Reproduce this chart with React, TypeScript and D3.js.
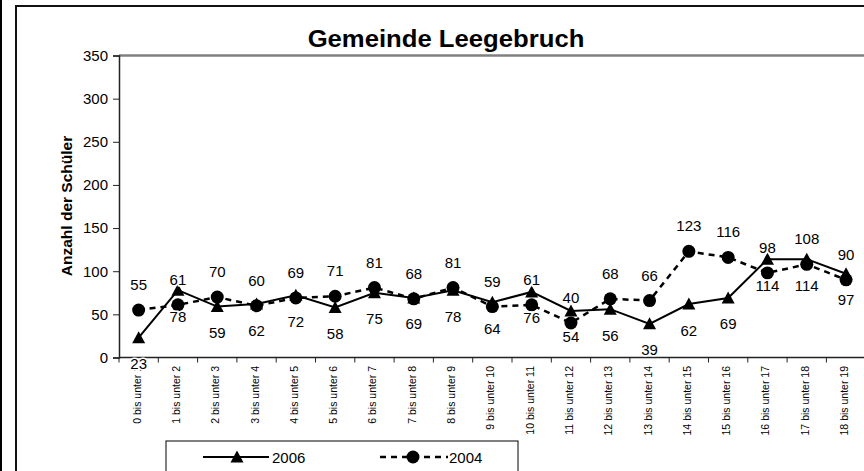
import React, { useEffect, useRef } from "react";
import * as d3 from "d3";

const categories = [
  "0 bis unter 1",
  "1 bis unter 2",
  "2 bis unter 3",
  "3 bis unter 4",
  "4 bis unter 5",
  "5 bis unter 6",
  "6 bis unter 7",
  "7 bis unter 8",
  "8 bis unter 9",
  "9 bis unter 10",
  "10 bis unter 11",
  "11 bis unter 12",
  "12 bis unter 13",
  "13 bis unter 14",
  "14 bis unter 15",
  "15 bis unter 16",
  "16 bis unter 17",
  "17 bis unter 18",
  "18 bis unter 19",
];

const values2006 = [23, 78, 59, 62, 72, 58, 75, 69, 78, 64, 76, 54, 56, 39, 62, 69, 114, 114, 97];
const values2004 = [55, 61, 70, 60, 69, 71, 81, 68, 81, 59, 61, 40, 68, 66, 123, 116, 98, 108, 90];

const yTicks = [0, 50, 100, 150, 200, 250, 300, 350];

const seriesNames = ["2006", "2004"];

const FONT = "Arial, 'Liberation Sans', sans-serif";

const App = () => {
  const svgRef = useRef<SVGSVGElement>(null);

  useEffect(() => {
    const width = 864;
    const height = 471;
    const svg = d3.select(svgRef.current);
    svg.selectAll("*").remove();
    svg.attr("width", width).attr("height", height);

    const left = 119;
    const top = 55.5;
    const bottom = 357.5;
    const band = 39.3;

    const x = d3
      .scaleBand()
      .domain(categories)
      .range([left, left + band * categories.length])
      .padding(0);
    const y = d3.scaleLinear().domain([0, 350]).range([bottom, top]);
    const cx = (i) => x(categories[i]) + x.bandwidth() / 2;

    // background + outer frame
    svg.append("rect").attr("width", width).attr("height", height).attr("fill", "white");
    svg.append("rect").attr("x", 0).attr("y", 0).attr("width", 2).attr("height", height).attr("fill", "black");
    svg
      .append("path")
      .attr("d", `M16,${height + 5}V6H${width + 5}`)
      .attr("fill", "none")
      .attr("stroke", "#111")
      .attr("stroke-width", 2);

    // plot area top border
    svg
      .append("line")
      .attr("x1", left)
      .attr("x2", width + 5)
      .attr("y1", top)
      .attr("y2", top)
      .attr("stroke", "#808080")
      .attr("stroke-width", 2.5);

    // title (source font is a bit wider than Arial)
    svg
      .append("text")
      .attr("transform", "translate(446,46.5) scale(1.07,1)")
      .attr("text-anchor", "middle")
      .style("font-family", FONT)
      .style("font-weight", "bold")
      .style("font-size", "24px")
      .text("Gemeinde Leegebruch");

    // y axis
    const yAxis = d3.axisLeft(y).tickValues(yTicks).tickSize(6).tickPadding(5);
    const yg = svg.append("g").attr("transform", `translate(${left},0)`).call(yAxis);
    yg.select(".domain").attr("stroke", "#222").attr("stroke-width", 1.5);
    yg.selectAll(".tick line").attr("stroke", "#222");
    yg.selectAll("text")
      .style("font-family", FONT)
      .style("font-size", "15px")
      .attr("fill", "black");

    svg
      .append("text")
      .attr("transform", `translate(72,206) rotate(-90)`)
      .attr("text-anchor", "middle")
      .style("font-family", FONT)
      .style("font-weight", "bold")
      .style("font-size", "15.5px")
      .text("Anzahl der Schüler");

    // x axis
    svg
      .append("line")
      .attr("x1", left)
      .attr("x2", width + 5)
      .attr("y1", bottom)
      .attr("y2", bottom)
      .attr("stroke", "#222")
      .attr("stroke-width", 1.5);
    svg
      .append("g")
      .selectAll("line")
      .data(d3.range(categories.length + 1))
      .enter()
      .append("line")
      .attr("x1", (i) => left + i * x.bandwidth())
      .attr("x2", (i) => left + i * x.bandwidth())
      .attr("y1", bottom)
      .attr("y2", bottom + 5)
      .attr("stroke", "#222");
    svg
      .append("g")
      .selectAll("text")
      .data(categories)
      .enter()
      .append("text")
      .attr("transform", (d, i) => `translate(${cx(i) + 2},366) rotate(-90)`)
      .attr("text-anchor", "end")
      .style("font-family", FONT)
      .style("font-size", "10.5px")
      .text((d) => d);

    // lines
    const line = d3
      .line()
      .x((d, i) => cx(i))
      .y((d) => y(d));

    svg
      .append("path")
      .datum(values2004)
      .attr("fill", "none")
      .attr("stroke", "black")
      .attr("stroke-width", 2.5)
      .attr("stroke-dasharray", "6,5")
      .attr("d", line);

    svg
      .append("path")
      .datum(values2006)
      .attr("fill", "none")
      .attr("stroke", "black")
      .attr("stroke-width", 2)
      .attr("d", line);

    const tri = (px, py) => `M${px},${py - 6.5}L${px + 6.5},${py + 5.5}L${px - 6.5},${py + 5.5}Z`;

    svg
      .append("g")
      .selectAll("circle")
      .data(values2004)
      .enter()
      .append("circle")
      .attr("cx", (d, i) => cx(i))
      .attr("cy", (d) => y(d))
      .attr("r", 6.5)
      .attr("fill", "black");

    svg
      .append("g")
      .selectAll("path")
      .data(values2006)
      .enter()
      .append("path")
      .attr("d", (d, i) => tri(cx(i), y(d)))
      .attr("fill", "black");

    // data labels
    const labelStyle = (sel) =>
      sel
        .attr("text-anchor", "middle")
        .style("font-family", FONT)
        .style("font-size", "15px")
        .attr("stroke", "white")
        .attr("stroke-width", 3)
        .attr("paint-order", "stroke")
        .attr("fill", "black");

    svg
      .append("g")
      .selectAll("text")
      .data(values2004)
      .enter()
      .append("text")
      .attr("x", (d, i) => cx(i))
      .attr("y", (d) => y(d) - 20)
      .call(labelStyle)
      .text((d) => d);

    svg
      .append("g")
      .selectAll("text")
      .data(values2006)
      .enter()
      .append("text")
      .attr("x", (d, i) => cx(i))
      .attr("y", (d) => y(d) + 31.5)
      .call(labelStyle)
      .text((d) => d);

    // legend
    const lg = svg.append("g");
    lg.append("rect")
      .attr("x", 166)
      .attr("y", 441)
      .attr("width", 352)
      .attr("height", 60)
      .attr("fill", "white")
      .attr("stroke", "black")
      .attr("stroke-width", 1);
    const ly = 457;
    lg.append("line").attr("x1", 203).attr("x2", 269).attr("y1", ly).attr("y2", ly).attr("stroke", "black").attr("stroke-width", 2);
    lg.append("path").attr("d", tri(237, ly)).attr("fill", "black");
    lg.append("line")
      .attr("x1", 380)
      .attr("x2", 448)
      .attr("y1", ly)
      .attr("y2", ly)
      .attr("stroke", "black")
      .attr("stroke-width", 2.5)
      .attr("stroke-dasharray", "6,5");
    lg.append("circle").attr("cx", 413).attr("cy", ly).attr("r", 6.5).attr("fill", "black");
    [272, 449].forEach((lx, k) => {
      lg.append("text")
        .attr("x", lx)
        .attr("y", 462.5)
        .style("font-family", FONT)
        .style("font-size", "15px")
        .text(seriesNames[k]);
    });
  }, []);

  return (
    <div style={{ position: "absolute", left: 0, top: 0 }}>
      <svg ref={svgRef} style={{ display: "block" }}></svg>
    </div>
  );
};

export default App;
